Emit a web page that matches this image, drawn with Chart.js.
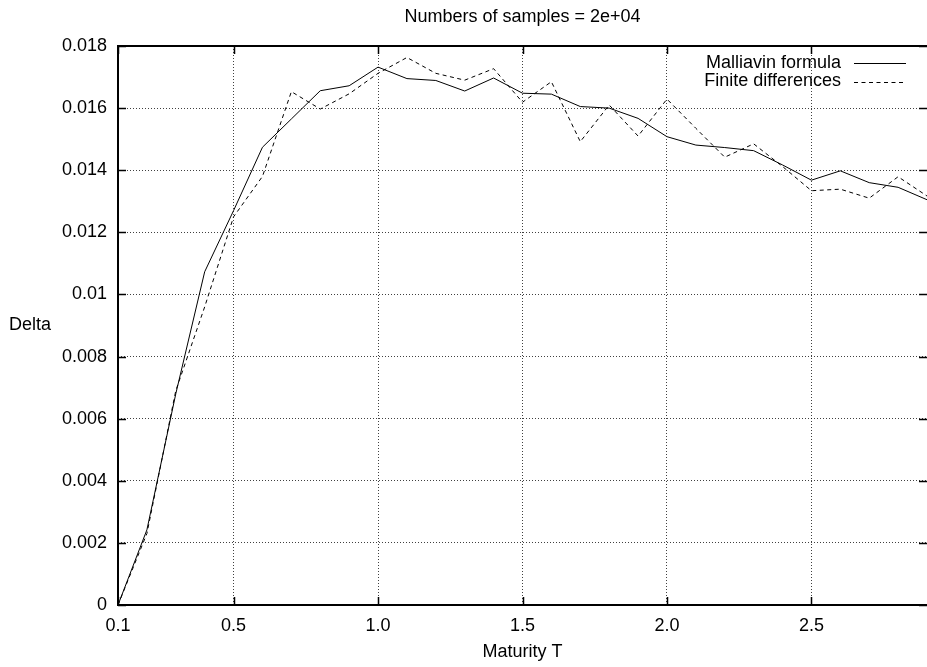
<!DOCTYPE html>
<html>
<head>
<meta charset="utf-8">
<script src="https://cdn.jsdelivr.net/npm/chart.js@4.4.1/dist/chart.umd.min.js"></script>
<style>
  html, body { margin: 0; padding: 0; background: #fff; }
  #chart { display: block; }
</style>
</head>
<body>
<canvas id="chart" width="927" height="667"></canvas>
<script>
// Data
const maturity = [0.1, 0.2, 0.3, 0.4, 0.5, 0.6, 0.7, 0.8, 0.9, 1.0,
  1.1, 1.2, 1.3, 1.4, 1.5, 1.6, 1.7, 1.8, 1.9, 2.0,
  2.1, 2.2, 2.3, 2.4, 2.5, 2.6, 2.7, 2.8, 2.9];

const malliavin = [0.0000, 0.00242, 0.0068, 0.01073, 0.0127, 0.01474, 0.01565, 0.01656, 0.01672, 0.01732,
  0.01695, 0.01689, 0.01655, 0.01697, 0.01648, 0.01645, 0.01605, 0.0160, 0.01567, 0.01508,
  0.01481, 0.01473, 0.01463, 0.01417, 0.01368, 0.01398, 0.0136, 0.01345, 0.01305];

const finiteDiff = [0.0000, 0.0023, 0.0069, 0.0096, 0.0125, 0.0138, 0.01653, 0.01597, 0.01646, 0.01712,
  0.01763, 0.01712, 0.0169, 0.01727, 0.01619, 0.01685, 0.01492, 0.0161, 0.0151, 0.01629,
  0.01535, 0.01442, 0.01485, 0.01412, 0.01334, 0.01339, 0.0131, 0.01379, 0.01317];

const xTicks = [0.1, 0.5, 1.0, 1.5, 2.0, 2.5];
const xTickLabels = ['0.1', '0.5', '1.0', '1.5', '2.0', '2.5'];
const yTicks = [0, 0.002, 0.004, 0.006, 0.008, 0.01, 0.012, 0.014, 0.016, 0.018];
const yTickLabels = ['0', '0.002', '0.004', '0.006', '0.008', '0.01', '0.012', '0.014', '0.016', '0.018'];

const FONT = '"Liberation Sans", Arial, Helvetica, sans-serif';
Chart.defaults.font.family = FONT;
Chart.defaults.font.size = 18;
Chart.defaults.color = '#000';

const toPoints = ys => maturity.map((t, i) => ({ x: t, y: ys[i] }));

// gnuplot-ish frame, inward ticks, texts and legend
const gnuplotLook = {
  id: 'gnuplotLook',
  afterDraw(chart) {
    const { ctx, chartArea: a, scales } = chart;
    const tl = 8;
    ctx.save();

    // ticks pointing inward (top/bottom and left/right mirror)
    ctx.strokeStyle = '#000';
    ctx.lineWidth = 1.5;
    ctx.beginPath();
    scales.x.ticks.forEach(t => {
      const px = Math.round(scales.x.getPixelForValue(t.value)) + 0.5;
      ctx.moveTo(px, a.bottom); ctx.lineTo(px, a.bottom - tl);
      ctx.moveTo(px, a.top); ctx.lineTo(px, a.top + tl);
    });
    scales.y.ticks.forEach(t => {
      const py = Math.round(scales.y.getPixelForValue(t.value)) + 0.5;
      ctx.moveTo(a.left, py); ctx.lineTo(a.left + tl, py);
      ctx.moveTo(a.right, py); ctx.lineTo(a.right - tl, py);
    });
    ctx.stroke();

    // frame: left, bottom, top
    ctx.lineWidth = 2;
    ctx.beginPath();
    ctx.moveTo(a.right, a.top);
    ctx.lineTo(a.left, a.top);
    ctx.lineTo(a.left, a.bottom);
    ctx.lineTo(a.right, a.bottom);
    ctx.stroke();

    // texts
    ctx.fillStyle = '#000';
    ctx.font = '18px ' + FONT;
    ctx.textBaseline = 'alphabetic';
    ctx.textAlign = 'center';
    const cx = (a.left + a.right) / 2;
    ctx.fillText('Numbers of samples = 2e+04', cx, 22);
    ctx.fillText('Maturity T', cx, 657);
    ctx.textBaseline = 'middle';
    ctx.fillText('Delta', 30, (a.top + a.bottom) / 2);

    // legend, gnuplot style: right aligned text then line sample
    const ly = [63, 81.5];
    chart.data.datasets.forEach((ds, i) => {
      ctx.textAlign = 'right';
      ctx.fillText(ds.label, 841, ly[i]);
      ctx.beginPath();
      ctx.lineWidth = ds.borderWidth;
      ctx.strokeStyle = ds.borderColor;
      ctx.setLineDash(ds.borderDash || []);
      ctx.moveTo(854, Math.round(ly[i]) + 0.5);
      ctx.lineTo(906, Math.round(ly[i]) + 0.5);
      ctx.stroke();
    });
    ctx.restore();
  }
};

new Chart(document.getElementById('chart'), {
  type: 'line',
  data: {
    datasets: [{
      label: 'Malliavin formula',
      data: toPoints(malliavin),
      borderColor: '#000',
      borderWidth: 1,
      pointRadius: 0,
      tension: 0,
      fill: false,
    }, {
      label: 'Finite differences',
      data: toPoints(finiteDiff),
      borderColor: '#000',
      borderWidth: 1,
      borderDash: [4, 3.5],
      pointRadius: 0,
      tension: 0,
      fill: false,
    }]
  },
  options: {
    responsive: false,
    animation: false,
    devicePixelRatio: 1,
    layout: { padding: { top: 46, right: 0, bottom: 0, left: 0 } },
    plugins: { legend: { display: false }, tooltip: { enabled: false }, title: { display: false } },
    scales: {
      x: {
        type: 'linear',
        min: 0.1,
        max: 2.9,
        afterBuildTicks: s => { s.ticks = xTicks.map(v => ({ value: v })); },
        afterFit: s => { s.height = 62; },
        ticks: {
          autoSkip: false,
          maxRotation: 0,
          padding: 10,
          callback: (v, i) => xTickLabels[i],
        },
        grid: { color: 'rgba(0,0,0,0.75)', lineWidth: 1, drawTicks: false },
        border: { display: false, dash: [1, 2] },
      },
      y: {
        type: 'linear',
        min: 0,
        max: 0.018,
        afterBuildTicks: s => { s.ticks = yTicks.map(v => ({ value: v })); },
        afterFit: s => { s.width = 118; },
        ticks: {
          padding: 11,
          callback: (v, i) => yTickLabels[i],
        },
        grid: { color: 'rgba(0,0,0,0.75)', lineWidth: 1, drawTicks: false },
        border: { display: false, dash: [1, 2] },
      }
    }
  },
  plugins: [gnuplotLook]
});
</script>
</body>
</html>
